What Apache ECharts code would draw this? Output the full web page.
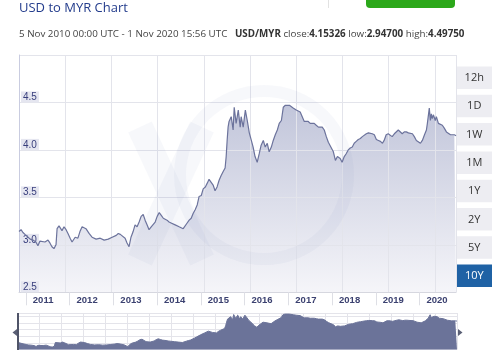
<!DOCTYPE html>
<html><head><meta charset="utf-8">
<script src="https://cdn.jsdelivr.net/npm/echarts@6/dist/echarts.min.js"></script>
<style>html,body{margin:0;padding:0;background:#fff;}#c{width:500px;height:361px;}</style>
</head><body><div id="c"></div>
<script>
const dates = ['2010-11-05','2010-11-22','2010-12-08','2010-12-25','2011-01-20','2011-02-06','2011-03-01','2011-03-26','2011-04-12','2011-04-29','2011-05-15','2011-06-10','2011-07-05','2011-07-21','2011-08-07','2011-08-24','2011-09-10','2011-09-19','2011-10-05','2011-10-30','2011-11-16','2011-12-03','2011-12-19','2012-01-06','2012-01-22','2012-02-17','2012-03-11','2012-03-28','2012-04-15','2012-05-01','2012-05-17','2012-06-12','2012-07-07','2012-08-10','2012-09-13','2012-10-16','2012-11-19','2012-12-22','2013-01-25','2013-02-11','2013-02-28','2013-03-14','2013-04-09','2013-04-25','2013-05-12','2013-05-28','2013-06-15','2013-07-01','2013-07-18','2013-08-04','2013-08-21','2013-09-07','2013-09-23','2013-10-10','2013-10-26','2013-11-13','2013-11-29','2013-12-16','2014-01-02','2014-01-19','2014-02-05','2014-02-22','2014-03-08','2014-03-25','2014-04-11','2014-04-28','2014-05-14','2014-06-01','2014-06-17','2014-07-04','2014-07-20','2014-08-07','2014-08-23','2014-09-09','2014-09-26','2014-10-13','2014-10-29','2014-11-15','2014-12-02','2014-12-18','2015-01-05','2015-01-21','2015-02-08','2015-02-24','2015-03-11','2015-03-27','2015-04-14','2015-04-30','2015-05-17','2015-06-03','2015-06-20','2015-07-06','2015-07-23','2015-08-01','2015-08-09','2015-08-17','2015-08-25','2015-09-12','2015-09-28','2015-10-07','2015-10-23','2015-11-10','2015-11-26','2015-12-04','2015-12-21','2016-01-08','2016-01-24','2016-02-10','2016-02-27','2016-03-13','2016-03-29','2016-04-16','2016-05-03','2016-05-19','2016-06-06','2016-06-22','2016-07-09','2016-07-25','2016-08-12','2016-08-28','2016-09-14','2016-10-01','2016-10-17','2016-11-04','2016-11-20','2016-12-07','2016-12-23','2017-01-10','2017-01-26','2017-02-13','2017-03-08','2017-03-24','2017-04-10','2017-04-27','2017-05-14','2017-05-30','2017-06-16','2017-07-03','2017-07-19','2017-08-05','2017-08-22','2017-09-09','2017-09-25','2017-10-11','2017-10-28','2017-11-14','2017-12-01','2017-12-17','2018-01-12','2018-01-29','2018-02-15','2018-03-10','2018-03-26','2018-04-13','2018-04-29','2018-05-16','2018-06-02','2018-06-19','2018-07-05','2018-07-22','2018-08-08','2018-08-25','2018-09-11','2018-09-27','2018-10-14','2018-11-01','2018-11-17','2018-12-03','2018-12-20','2019-01-06','2019-01-23','2019-02-09','2019-02-26','2019-03-12','2019-03-29','2019-04-15','2019-05-01','2019-05-18','2019-06-05','2019-06-21','2019-07-08','2019-07-24','2019-08-10','2019-08-27','2019-09-13','2019-09-30','2019-10-16','2019-11-03','2019-11-19','2019-12-06','2019-12-22','2020-01-09','2020-01-25','2020-02-12','2020-02-28','2020-03-07','2020-03-23','2020-04-01','2020-04-09','2020-04-17','2020-04-26','2020-05-12','2020-05-21','2020-06-07','2020-06-23','2020-07-10','2020-07-26','2020-08-13','2020-08-29','2020-09-16','2020-10-02','2020-10-18','2020-11-01'];
const rates = [3.14,3.16,3.13,3.11,3.08,3.06,3.05,3.03,2.99,3.04,3.06,3.03,3.05,3.02,2.98,2.96,3.00,3.17,3.20,3.15,3.19,3.16,3.12,3.07,3.03,3.08,3.07,3.14,3.19,3.20,3.17,3.12,3.08,3.06,3.07,3.05,3.06,3.08,3.10,3.12,3.11,3.09,3.07,3.02,2.98,3.08,3.14,3.21,3.19,3.24,3.30,3.32,3.26,3.21,3.16,3.19,3.21,3.24,3.30,3.34,3.31,3.28,3.30,3.26,3.24,3.23,3.23,3.21,3.21,3.19,3.19,3.17,3.16,3.23,3.26,3.28,3.33,3.37,3.42,3.51,3.52,3.59,3.61,3.65,3.69,3.70,3.63,3.57,3.61,3.68,3.73,3.77,3.81,3.93,4.10,4.24,4.30,4.35,4.21,4.45,4.28,4.42,4.24,4.35,4.24,4.42,4.31,4.18,4.10,4.03,3.93,3.87,3.96,4.05,4.10,4.03,4.07,3.98,4.03,4.10,4.16,4.21,4.28,4.31,4.45,4.47,4.49,4.47,4.45,4.44,4.42,4.42,4.40,4.35,4.30,4.28,4.30,4.28,4.30,4.28,4.26,4.24,4.23,4.24,4.21,4.14,4.08,4.07,3.98,3.89,3.93,3.91,3.87,3.93,3.96,4.00,4.02,4.03,4.07,4.09,4.11,4.12,4.14,4.16,4.17,4.18,4.19,4.17,4.16,4.11,4.10,4.09,4.07,4.10,4.16,4.17,4.16,4.14,4.17,4.19,4.21,4.19,4.17,4.19,4.19,4.18,4.17,4.17,4.14,4.10,4.09,4.07,4.10,4.16,4.21,4.28,4.44,4.31,4.38,4.33,4.37,4.31,4.35,4.28,4.28,4.26,4.23,4.19,4.17,4.16,4.14,4.16,4.15];
const yearTicks = ['2011-01-01','2012-01-01','2013-01-01','2014-01-01','2015-01-01','2016-01-01','2017-01-01','2018-01-01','2019-01-01','2020-01-01'];
const rangeButtons = ['12h','1D','1W','1M','1Y','2Y','5Y','10Y'];
const startDate = '2010-11-05', endDate = '2020-11-01';

const chart = echarts.init(document.getElementById('c'), null, {renderer:'canvas'});
const ts = s => Date.parse(s + 'T00:00:00Z');
const seriesData = dates.map((d,i)=>[ts(d), rates[i]]);
const tMin = ts(startDate), tMax = ts(endDate);
const yearVals = yearTicks.map(ts);
const FONT = 'Open Sans';
const gridColor = '#e3e4eb';
const wm = 'rgba(120,130,180,0.06)';

const buttons = rangeButtons.map((b,i)=>{
  const active = b === '10Y';
  return {type:'group', x:456.5, y:66.5 + i*28.3, children:[
    {type:'rect', shape:{x:0,y:0,width:35.5,height:22.5}, style:{fill: active ? '#1f62a5' : '#ededf2'}},
    {type:'text', x:17.75, y:11.5, style:{text:b, fill: active ? '#ffffff' : '#333333', font:'11px "Open Sans"', align:'center', verticalAlign:'middle'}}
  ]};
});

chart.setOption({
  animation:false,
  title:{text:'USD to MYR Chart', left:19, top:2, padding:0, textStyle:{fontFamily:FONT, fontSize:13, fontWeight:'normal', color:'#233c8c'}},
  grid:[
    {left:19, top:55, width:437, height:237.3, containLabel:false},
    {left:17, top:313, width:440, height:36.5, containLabel:false}
  ],
  xAxis:[
    {type:'value', gridIndex:0, min:tMin, max:tMax, z:2,
     axisLine:{show:true, lineStyle:{color:'#d6d7df'}},
     axisTick:{show:true, customValues: yearVals, length:13, lineStyle:{color:'#dedfe5'}},
     axisLabel:{show:true, customValues: yearVals, formatter:v=>String(new Date(v).getUTCFullYear()), align:'left', padding:[0,0,0,7], margin:3, verticalAlign:'top', fontFamily:'Liberation Sans', fontWeight:'bold', fontSize:9.5, color:'#3b4170'},
     splitLine:{show:false}},
    {type:'value', gridIndex:0, min:0, max:9.46, interval:1, z:2,
     axisLine:{show:false}, axisTick:{show:false}, axisLabel:{show:false},
     splitLine:{show:true, lineStyle:{color:gridColor, width:1}}},
    {type:'value', gridIndex:1, min:tMin, max:tMax, show:false},
    {type:'value', gridIndex:1, min:0, max:20, interval:1,
     axisLine:{show:false}, axisTick:{show:false}, axisLabel:{show:false},
     splitLine:{show:true, lineStyle:{color:'#e4e4ea'}}}
  ],
  yAxis:[
    {type:'value', gridIndex:0, min:2.5, max:5.0, interval:0.5, z:2,
     axisLine:{show:true, lineStyle:{color:'#c9cce0'}}, axisTick:{show:false},
     splitLine:{show:true, lineStyle:{color:gridColor}},
     axisLabel:{inside:true, margin:2, showMaxLabel:false, verticalAlign:'bottom', formatter:v=>v.toFixed(1),
       backgroundColor:'#e5e6f0', padding:[1,2,0,2], fontFamily:'Liberation Sans', fontSize:10, color:'#383e7c'}},
    {type:'value', gridIndex:1, min:2.85, max:4.52, show:false},
    {type:'value', gridIndex:1, min:0, max:5.47, interval:1,
     axisLine:{show:false}, axisTick:{show:false}, axisLabel:{show:false},
     splitLine:{show:true, lineStyle:{color:'#e4e4ea'}}}
  ],
  series:[
    {type:'line', xAxisIndex:0, yAxisIndex:0, data:seriesData, symbol:'none', z:1,
     lineStyle:{width:0},
     areaStyle:{opacity:1, color:{type:'linear', x:0,y:0,x2:0,y2:1, colorStops:[{offset:0,color:'#c1c5da'},{offset:1,color:'#f5f5f9'}]}}},
    {type:'line', xAxisIndex:0, yAxisIndex:0, data:seriesData, symbol:'none', z:5,
     lineStyle:{width:1.2, color:'#6c739c'}},
    {type:'line', xAxisIndex:2, yAxisIndex:1, data:seriesData, symbol:'none', z:3,
     lineStyle:{width:1, color:'#6b7399'},
     areaStyle:{opacity:1, color:'#6b7399'}}
  ],
  graphic:[
    {type:'line', shape:{x1:328.5,y1:0,x2:328.5,y2:8}, style:{stroke:'#e2e2e2', lineWidth:1}},
    {type:'rect', shape:{x:366,y:-6,width:89,height:14,r:4}, style:{fill:'#2ca81a'}},
    {type:'text', x:19, y:34, style:{
      text:'{n|5 Nov 2010 00:00 UTC - 1 Nov 2020 15:56 UTC}{n|   }{b|USD/MYR}{n| close:}{b|4.15326}{n| low:}{b|2.94700}{n| high:}{b|4.49750}',
      verticalAlign:'middle',
      rich:{n:{fontFamily:FONT, fontSize:9.8, fill:'#444444', verticalAlign:'middle'}, b:{fontFamily:FONT, fontSize:9.8, fontWeight:'bold', fill:'#333333', verticalAlign:'middle'}}}},
    {type:'line', z:4, silent:true, shape:{x1:140,y1:127,x2:202,y2:260}, style:{stroke:wm, lineWidth:26}},
    {type:'line', z:4, silent:true, shape:{x1:202,y1:127,x2:140,y2:260}, style:{stroke:wm, lineWidth:26}},
    {type:'circle', z:4, silent:true, shape:{cx:264,cy:175,r:84}, style:{fill:'none', stroke:wm, lineWidth:12}},
    {type:'rect', z:10, shape:{x:17,y:313,width:2,height:37}, style:{fill:'#4f5468'}},
    {type:'polygon', z:10, shape:{points:[[17,329],[17,336],[12.5,332.5]]}, style:{fill:'#5a5f75'}},
    {type:'polygon', z:10, shape:{points:[[458,329],[458,336],[462.5,332.5]]}, style:{fill:'#5a5f75'}}
  ].concat(buttons)
});
</script></body></html>
